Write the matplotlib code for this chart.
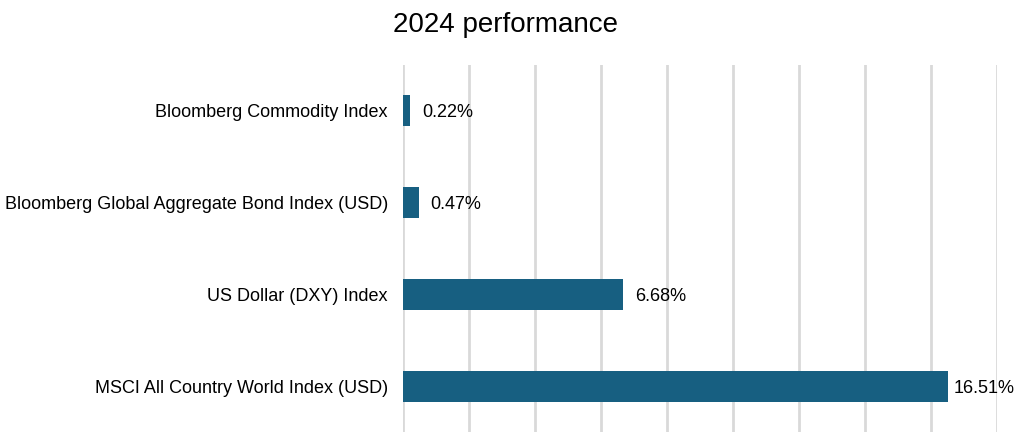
import matplotlib
matplotlib.use("Agg")
import matplotlib.pyplot as plt

plt.rcParams['font.family'] = ['Liberation Sans', 'DejaVu Sans']

# data, top to bottom as in the picture
categories = [
    "Bloomberg Commodity Index",
    "Bloomberg Global Aggregate Bond Index (USD)",
    "US Dollar (DXY) Index",
    "MSCI All Country World Index (USD)",
]
performance = [0.22, 0.47, 6.68, 16.51]
value_labels = ["0.22%", "0.47%", "6.68%", "16.51%"]

BAR_COLOR = "#175f81"
GRID_COLOR = "#d9d9d9"

fig = plt.figure(figsize=(10.16, 4.38), dpi=100)
ax = fig.add_axes([0.3967, 0.0137, 0.5846, 0.838])

ypos = list(range(len(categories)))
ax.barh(ypos, performance, height=0.34, color=BAR_COLOR, zorder=3)
ax.set_yticks(ypos)
ax.set_yticklabels(categories, fontsize=13)
ax.set_ylim(len(categories) - 0.5, -0.5)

ax.set_xlim(0, 18)
ax.set_xticks(range(0, 19, 2))
ax.set_xticklabels([])
ax.tick_params(axis="both", length=0)
ax.tick_params(axis="y", pad=11)
ax.grid(axis="x", color=GRID_COLOR, linewidth=2, zorder=0)
for s in ax.spines.values():
    s.set_visible(False)

for y, v, lab in zip(ypos, performance, value_labels):
    off = 6 if v > 15 else 12
    ax.annotate(lab, (v, y), xytext=(off, 0), textcoords="offset pixels",
                ha="left", va="center_baseline", fontsize=13, zorder=4)

fig.text(0.498, 0.943, "2024 performance", fontsize=20, ha="center", va="center")

fig.savefig("out.png", dpi=100)
